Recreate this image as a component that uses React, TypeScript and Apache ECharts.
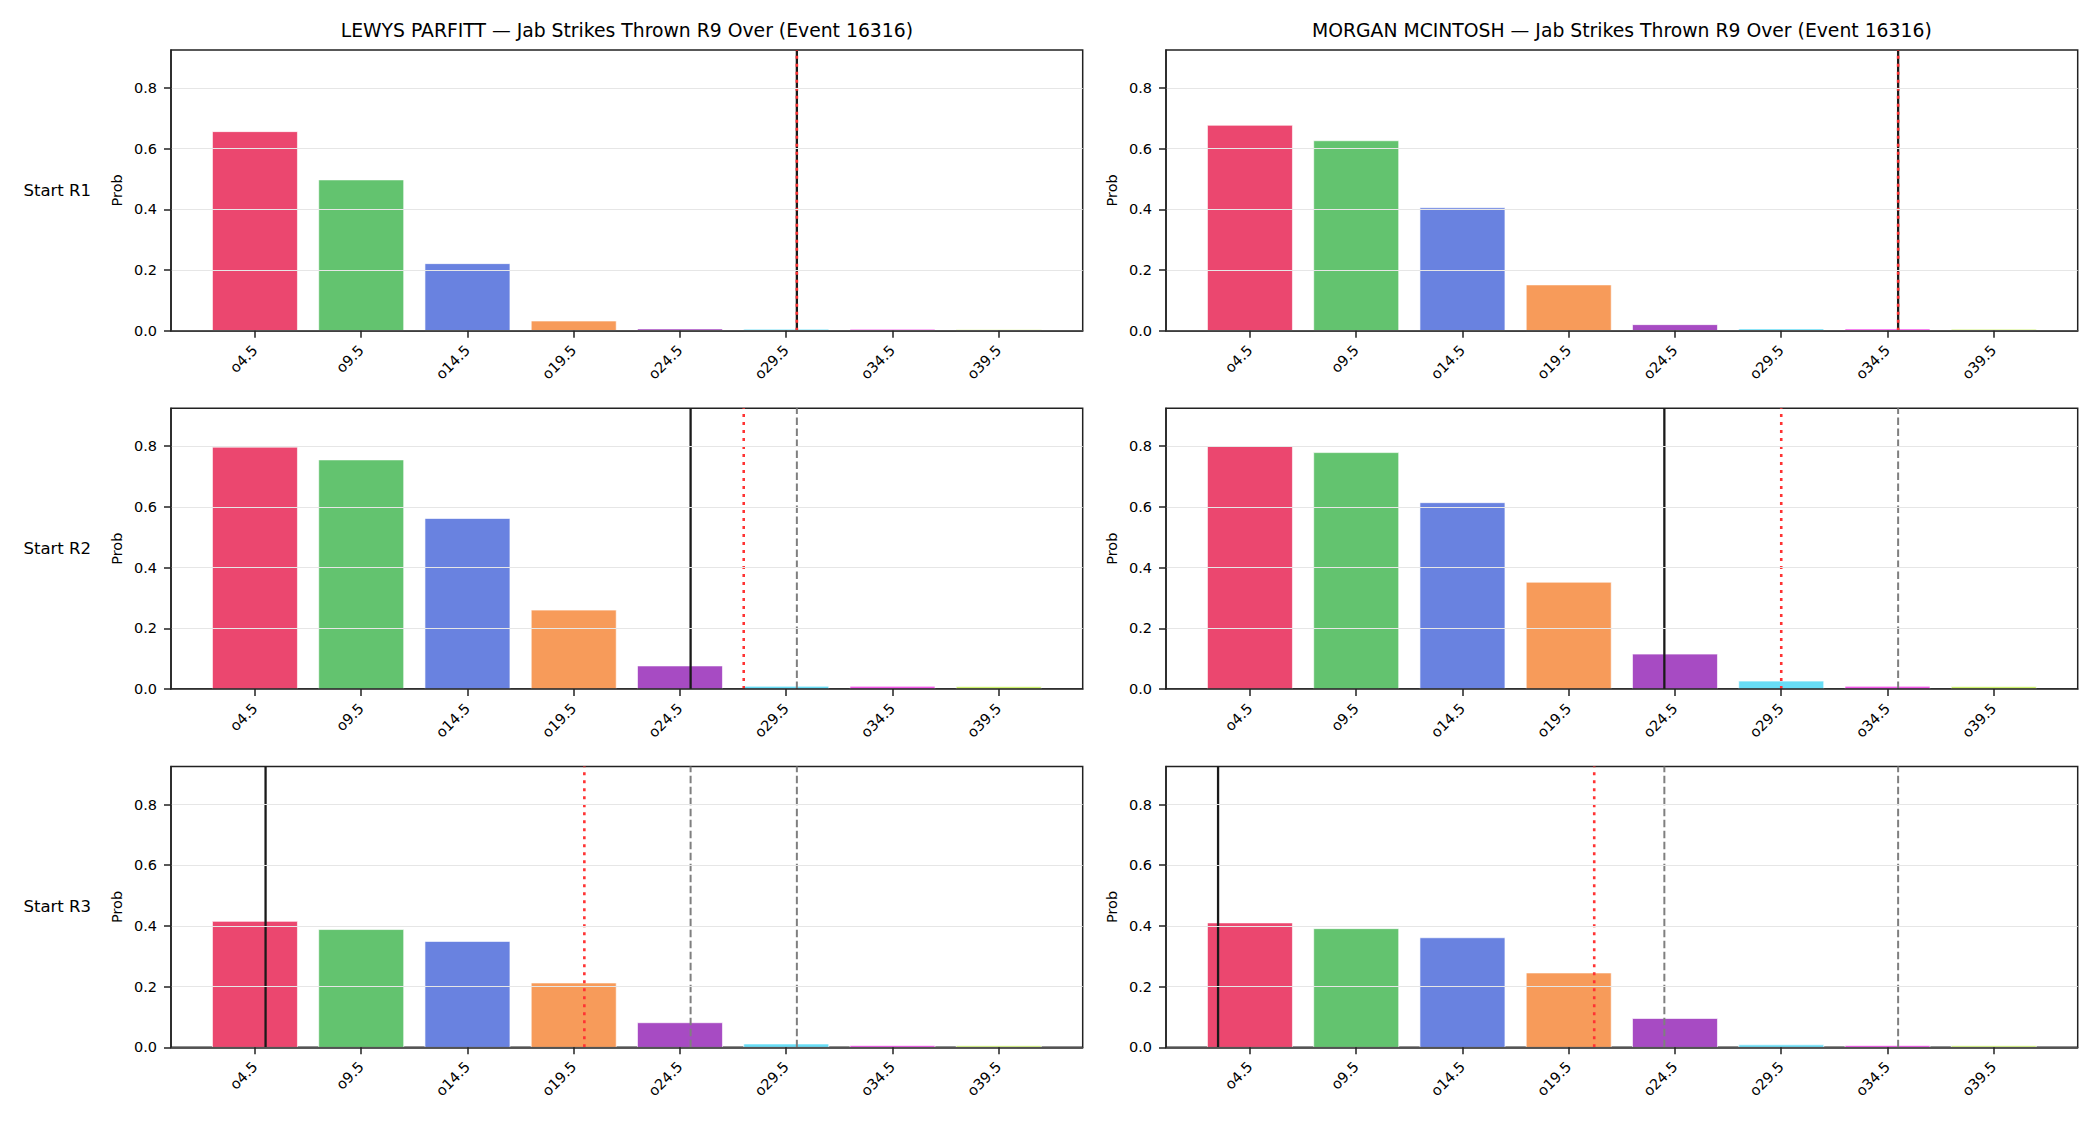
import React, { useEffect, useRef } from "react";
import * as echarts from "echarts";

// ---------------- data ----------------
const CATEGORIES = ["o4.5", "o9.5", "o14.5", "o19.5", "o24.5", "o29.5", "o34.5", "o39.5"];
const THRESHOLDS = [4.5, 9.5, 14.5, 19.5, 24.5, 29.5, 34.5, 39.5];
const BAR_COLORS = ["#e6194b", "#3cb44b", "#4363d8", "#f58231", "#911eb4", "#42d4f4", "#f032e6", "#bfef45"];
const FIGHTERS = ["LEWYS PARFITT", "MORGAN MCINTOSH"];
const TITLE_SUFFIX = " — Jab Strikes Thrown R9 Over (Event 16316)";
const ROW_LABELS = ["Start R1", "Start R2", "Start R3"];
const Y_TICKS = [0, 0.2, 0.4, 0.6, 0.8];
const Y_MAX = 0.925;

const PARFITT_R1 = [0.656, 0.497, 0.221, 0.032, 0.006, 0.005, 0.005, 0.004];
const PARFITT_R2 = [0.797, 0.755, 0.562, 0.26, 0.076, 0.009, 0.009, 0.008];
const PARFITT_R3 = [0.415, 0.388, 0.349, 0.212, 0.081, 0.011, 0.006, 0.005];
const MCINTOSH_R1 = [0.677, 0.626, 0.405, 0.151, 0.02, 0.006, 0.006, 0.005];
const MCINTOSH_R2 = [0.801, 0.779, 0.614, 0.352, 0.115, 0.026, 0.009, 0.008];
const MCINTOSH_R3 = [0.41, 0.391, 0.361, 0.245, 0.095, 0.008, 0.006, 0.005];

// reference lines, in strikes
const PARFITT_CURRENT = [30, 25, 5]; // black solid
const PARFITT_PROJECTED = [30, 27.5, 20]; // red dotted
const PARFITT_PREVIOUS = [[], [30], [25, 30]]; // grey dashed
const MCINTOSH_CURRENT = [35, 24, 3];
const MCINTOSH_PROJECTED = [35, 29.5, 20.7];
const MCINTOSH_PREVIOUS = [[], [35], [24, 35]];

const PANELS = [
  { values: [PARFITT_R1, PARFITT_R2, PARFITT_R3], current: PARFITT_CURRENT, projected: PARFITT_PROJECTED, previous: PARFITT_PREVIOUS },
  { values: [MCINTOSH_R1, MCINTOSH_R2, MCINTOSH_R3], current: MCINTOSH_CURRENT, projected: MCINTOSH_PROJECTED, previous: MCINTOSH_PREVIOUS },
];

// ---------------- layout ----------------
const W = 2100;
const H = 1125;
const PANEL_LEFT = [171, 1166];
const PANEL_WIDTH = 911.7;
const ROW_TOP = [50, 408.3, 766.6];
const ROW_HEIGHT = 280.7;
const X_MIN = -0.79;
const X_MAX = 7.79;
const BAR_HALF = 0.4;
const FONT = "'DejaVu Sans', sans-serif";
const TICK_FONT = 14.5;
const SPINE = "#222222";

// map a strike count onto the bar-index axis (threshold k sits at index k)
const strikeToAxis = (s: number) => (s - THRESHOLDS[0]) / (THRESHOLDS[1] - THRESHOLDS[0]);

function buildOption() {
  const grid: any[] = [];
  const xAxis: any[] = [];
  const yAxis: any[] = [];
  const series: any[] = [];
  const graphic: any[] = [];
  const idxTicks = CATEGORIES.map((_, i) => i);

  PANELS.forEach((panel, p) => {
    graphic.push({
      type: "text",
      x: PANEL_LEFT[p] + PANEL_WIDTH / 2,
      y: 30.5,
      style: {
        text: FIGHTERS[p] + TITLE_SUFFIX,
        align: "center",
        verticalAlign: "middle",
        fontSize: 18.8,
        fontFamily: FONT,
        fill: "#000",
      },
    });
    panel.values.forEach((vals, r) => {
      const gi = grid.length;
      grid.push({
        left: PANEL_LEFT[p],
        top: ROW_TOP[r],
        width: PANEL_WIDTH,
        height: ROW_HEIGHT,
        show: true,
        borderColor: SPINE,
        borderWidth: 1.5,
        backgroundColor: "transparent",
        containLabel: false,
      });
      xAxis.push({
        gridIndex: gi,
        type: "value",
        min: X_MIN,
        max: X_MAX,
        z: 10,
        axisLine: { show: true, onZero: false, lineStyle: { color: SPINE, width: 1.5 } },
        axisTick: { show: true, customValues: idxTicks, length: 7, lineStyle: { color: SPINE, width: 1.5 } },
        axisLabel: {
          customValues: idxTicks,
          formatter: (v: number) => CATEGORIES[Math.round(v)] ?? "",
          rotate: 45,
          margin: 17,
          fontSize: TICK_FONT,
          fontFamily: FONT,
          color: "#000",
        },
        splitLine: { show: false },
      });
      yAxis.push({
        gridIndex: gi,
        type: "value",
        min: 0,
        max: Y_MAX,
        interval: 0.2,
        z: 10,
        name: "Prob",
        nameLocation: "middle",
        nameGap: 47,
        nameTextStyle: { fontSize: TICK_FONT, fontFamily: FONT, color: "#000" },
        axisLine: { show: true, onZero: false, lineStyle: { color: SPINE, width: 1.5 } },
        axisTick: { show: true, customValues: Y_TICKS, length: 7, lineStyle: { color: SPINE, width: 1.5 } },
        axisLabel: {
          customValues: Y_TICKS,
          formatter: (v: number) => v.toFixed(1),
          margin: 14,
          fontSize: TICK_FONT,
          fontFamily: FONT,
          color: "#000",
        },
        splitLine: { show: true, lineStyle: { color: "#e6e6e6", width: 1 } },
      });
      if (p === 0) {
        graphic.push({
          type: "text",
          x: 91,
          y: ROW_TOP[r] + ROW_HEIGHT / 2,
          style: {
            text: ROW_LABELS[r],
            align: "right",
            verticalAlign: "middle",
            fontSize: 16.5,
            fontFamily: FONT,
            fill: "#000",
          },
        });
      }
      series.push({
        type: "custom",
        xAxisIndex: gi,
        yAxisIndex: gi,
        z: 2,
        silent: true,
        encode: { x: 0, y: 1 },
        data: vals.map((v, i) => [i, v]),
        renderItem: (params: any, api: any) => {
          const i = api.value(0);
          const v = api.value(1);
          const tl = api.coord([i - BAR_HALF, v]);
          const br = api.coord([i + BAR_HALF, 0]);
          return {
            type: "rect",
            shape: { x: tl[0], y: tl[1], width: br[0] - tl[0], height: br[1] - tl[1] },
            style: { fill: BAR_COLORS[params.dataIndex], opacity: 0.8, stroke: "#ffffff", lineWidth: 0.8 },
          };
        },
      });
      const addLine = (s: number, style: any, z: number) => {
        const x = strikeToAxis(s);
        series.push({
          type: "line",
          xAxisIndex: gi,
          yAxisIndex: gi,
          z,
          silent: true,
          symbol: "none",
          data: [
            [x, 0],
            [x, Y_MAX],
          ],
          lineStyle: style,
        });
      };
      panel.previous[r].forEach((s) => addLine(s, { color: "#7f7f7f", width: 2, type: [7.5, 3.5] }, 4));
      addLine(panel.current[r], { color: "#1a1a1a", width: 2.3, type: "solid" }, 5);
      addLine(panel.projected[r], { color: "#ff3333", width: 2.6, type: [3, 5] }, 6);
    });
  });

  return {
    animation: false,
    backgroundColor: "#ffffff",
    grid,
    xAxis,
    yAxis,
    series,
    graphic,
  };
}

export default function App() {
  const ref = useRef<HTMLDivElement>(null);
  useEffect(() => {
    if (!ref.current) return;
    const chart = echarts.init(ref.current, undefined, { renderer: "svg" });
    chart.setOption(buildOption() as any);
    return () => chart.dispose();
  }, []);
  return <div ref={ref} style={{ position: "absolute", left: 0, top: 0, width: W, height: H }} />;
}
